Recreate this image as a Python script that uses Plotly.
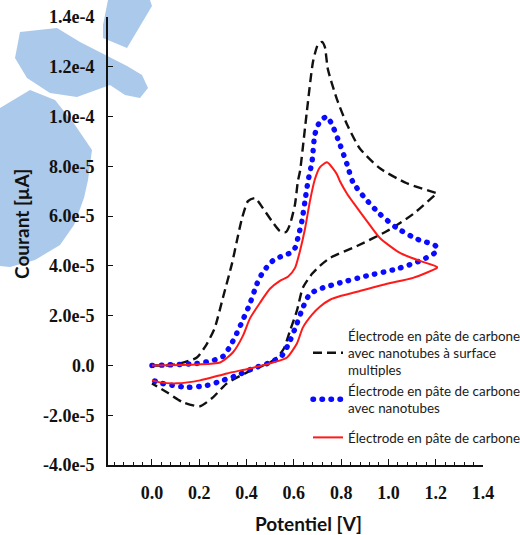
import numpy as np
import plotly.graph_objects as go

# Cyclic voltammograms: potential in V, current in units of 1e-5 A
I_SCALE = 1e-5

# Carbon paste electrode with multi-walled nanotubes (black dashed)
mwcnt_fwd_e = [0.000, 0.063, 0.118, 0.190, 0.233, 0.266, 0.300, 0.338, 0.359, 0.381,
               0.406, 0.436, 0.469, 0.507, 0.541, 0.567, 0.584, 0.605, 0.617, 0.626,
               0.655, 0.681, 0.702, 0.719, 0.731, 0.744, 0.782, 0.825, 0.879, 0.964,
               1.078, 1.205]
mwcnt_fwd_i = [0.00, 0.00, 0.08, 0.32, 0.88, 1.52, 2.72, 4.08, 5.00, 5.92,
               6.60, 6.72, 6.32, 5.80, 5.40, 5.36, 5.68, 6.48, 7.40, 7.80,
               10.2, 12.2, 12.9, 13.0, 12.8, 11.9, 10.7, 9.68, 8.72, 7.92,
               7.32, 6.92]
mwcnt_rev_e = [1.205, 1.104, 0.994, 0.867, 0.753, 0.710, 0.677, 0.638, 0.613, 0.584,
               0.558, 0.533, 0.499, 0.402, 0.317, 0.258, 0.203, 0.131, 0.063, 0.000]
mwcnt_rev_i = [6.92, 6.08, 5.40, 4.80, 4.32, 4.00, 3.68, 3.12, 2.20, 1.40,
               0.68, 0.36, 0.12, -0.28, -0.72, -1.28, -1.64, -1.48, -1.08, -0.72]

# Carbon paste electrode with nanotubes (blue dotted)
cnt_fwd_e = [0.000, 0.190, 0.258, 0.300, 0.330, 0.359, 0.385, 0.414, 0.444, 0.465,
             0.490, 0.520, 0.554, 0.584, 0.605, 0.617, 0.634, 0.647, 0.660, 0.677,
             0.689, 0.710, 0.740, 0.765, 0.795, 0.825, 0.850, 0.901, 0.964, 1.036,
             1.120, 1.200]
cnt_fwd_i = [0.00, 0.08, 0.20, 0.36, 0.76, 1.30, 1.84, 2.48, 3.28, 3.68,
             4.00, 4.28, 4.40, 4.52, 4.72, 5.12, 5.80, 6.60, 7.40, 8.20,
             9.28, 9.80, 10.0, 9.60, 8.88, 8.08, 7.36, 6.72, 6.08, 5.52,
             5.08, 4.80]
cnt_rev_e = [1.200, 1.133, 1.036, 0.909, 0.795, 0.723, 0.702, 0.668, 0.638, 0.613,
             0.584, 0.550, 0.499, 0.427, 0.359, 0.300, 0.233, 0.152, 0.085, 0.042,
             0.004]
cnt_rev_i = [4.56, 4.20, 3.88, 3.60, 3.32, 3.12, 3.04, 2.88, 2.32, 1.68,
             1.00, 0.40, 0.12, -0.12, -0.40, -0.60, -0.80, -0.88, -0.80, -0.72,
             -0.60]

# Bare carbon paste electrode (red solid)
cpe_fwd_e = [0.000, 0.190, 0.288, 0.342, 0.385, 0.414, 0.457, 0.499, 0.541, 0.575,
             0.605, 0.626, 0.647, 0.668, 0.689, 0.710, 0.740, 0.765, 0.782, 0.795,
             0.825, 0.850, 0.909, 0.964, 1.049, 1.133, 1.205]
cpe_fwd_i = [0.00, 0.04, 0.12, 0.52, 1.20, 1.88, 2.52, 3.08, 3.40, 3.56,
             3.92, 4.60, 5.48, 6.60, 7.48, 7.96, 8.16, 7.92, 7.68, 7.40,
             6.90, 6.56, 5.80, 5.12, 4.52, 4.20, 3.96]
cpe_rev_e = [1.205, 1.104, 0.994, 0.867, 0.800, 0.753, 0.710, 0.677, 0.638, 0.613,
             0.571, 0.512, 0.414, 0.317, 0.203, 0.106, 0.034, 0.000]
cpe_rev_i = [3.92, 3.52, 3.28, 2.96, 2.80, 2.64, 2.36, 2.04, 1.52, 0.88,
             0.32, 0.12, -0.12, -0.32, -0.60, -0.72, -0.68, -0.60]

series_names = [
    "Électrode en pâte de carbone<br>avec nanotubes à surface<br>multiples",
    "Électrode en pâte de carbone<br>avec nanotubes",
    "Électrode en pâte de carbone",
]

y_tickvals = [-4e-5, -2e-5, 0, 2e-5, 4e-5, 6e-5, 8e-5, 1e-4, 1.2e-4, 1.4e-4]
y_ticktext = ["-4.0e-5", "-2.0e-5", "0.0", "2.0e-5", "4.0e-5", "6.0e-5",
              "8.0e-5", "1.0e-4", "1.2e-4", "1.4e-4"]
x_tickvals = [0.0, 0.2, 0.4, 0.6, 0.8, 1.0, 1.2, 1.4]
x_ticktext = ["0.0", "0.2", "0.4", "0.6", "0.8", "1.0", "1.2", "1.4"]


def loop(fe, fi, re_, ri):
    e = np.array(fe + re_)
    i = np.array(fi + ri) * I_SCALE
    return e, i


W, H = 520, 535
ML, MR, MT, MB = 108, 37, 17, 70

fig = go.Figure()

e, i = loop(mwcnt_fwd_e, mwcnt_fwd_i, mwcnt_rev_e, mwcnt_rev_i)
fig.add_trace(go.Scatter(x=e, y=i, mode="lines", name=series_names[0],
                         legendgroup="a",
                         line=dict(color="#111111", width=2.4, dash="9px,5px",
                                   shape="spline", smoothing=0.6)))
e, i = loop(cnt_fwd_e, cnt_fwd_i, cnt_rev_e, cnt_rev_i)
fig.add_trace(go.Scatter(x=e, y=i, mode="lines", name=series_names[1],
                         legendgroup="a",
                         line=dict(color="#0a0aff", width=5.4, dash="0.5px,8.5px",
                                   shape="spline", smoothing=0.6)))
e, i = loop(cpe_fwd_e, cpe_fwd_i, cpe_rev_e, cpe_rev_i)
fig.add_trace(go.Scatter(x=e, y=i, mode="lines", name=series_names[2],
                         legendgroup="b",
                         line=dict(color="#ff1a1a", width=2,
                                   shape="spline", smoothing=0.6)))


def px_to_paper(pts):
    pw, ph = W - ML - MR, H - MT - MB
    return [((x - ML) / pw, (H - MB - y) / ph) for x, y in pts]


def path_of(pts):
    p = px_to_paper(pts)
    return "M" + " L".join(f"{x:.4f},{y:.4f}" for x, y in p) + " Z"


# pale blue watermark logo behind the left side
logo_parts = [
    [(108, 0), (150, 0), (152, 6), (127, 48), (103, 38), (103, 25)],
    [(15, 58), (20, 32), (57, 28), (80, 42), (127, 66), (142, 75), (148, 88),
     (140, 98), (125, 95), (110, 85), (77, 97), (50, 93), (27, 78)],
    [(0, 108), (30, 90), (55, 100), (75, 125), (92, 150), (88, 180), (84, 198),
     (74, 225), (60, 245), (35, 260), (10, 267), (0, 266)],
]
for part in logo_parts:
    fig.add_shape(type="path", path=path_of(part), xref="paper", yref="paper",
                  fillcolor="#abc9ea", line=dict(width=0), layer="below")

tick_font = dict(family="Liberation Serif", size=18, color="#111111", weight="bold")
title_font = dict(family="Lato", size=19, color="#111111", weight="bold")

fig.update_xaxes(range=[-0.186, 1.40], showline=True, linecolor="#111111", linewidth=2,
                 showgrid=False, zeroline=False, ticks="inside", ticklen=6,
                 tickwidth=1.2, tickcolor="#111111", tickvals=x_tickvals,
                 ticktext=x_ticktext, tickfont=tick_font, ticklabelstandoff=10,
                 minor=dict(dtick=0.04, tick0=0, ticks="inside", ticklen=3,
                            tickwidth=1.2, tickcolor="#111111", showgrid=False))
fig.update_yaxes(range=[-4e-5, 1.4e-4], showline=True, linecolor="#111111", linewidth=2,
                 showgrid=False, zeroline=False, ticks="inside", ticklen=5,
                 tickwidth=1.2, tickcolor="#111111", tickvals=y_tickvals,
                 ticktext=y_ticktext, tickfont=tick_font, ticklabelstandoff=8)

fig.add_annotation(text="Potentiel [V]", xref="paper", yref="paper",
                   x=(308 - ML) / (W - ML - MR), y=-0.1295,
                   xanchor="center", yanchor="middle",
                   showarrow=False, font=title_font)
fig.add_annotation(text="Courant [µA]", xref="paper", yref="paper",
                   x=(22 - ML) / (W - ML - MR), y=0.538,
                   xanchor="center", yanchor="middle",
                   textangle=-90, showarrow=False, font=title_font)

fig.update_layout(
    width=W, height=H,
    margin=dict(l=ML, r=MR, t=MT, b=MB, autoexpand=False),
    paper_bgcolor="white", plot_bgcolor="white",
    showlegend=True,
    legend=dict(x=(308 - ML) / (W - ML - MR), y=0.3235, xanchor="left", yanchor="top",
                bgcolor="rgba(0,0,0,0)", borderwidth=0, tracegroupgap=9,
                font=dict(family="Lato", size=13.4, color="#1a1a1a"),
                valign="middle"),
)

# round caps turn the tiny dashes of the blue trace into dots
round_dots = """
var st = document.createElement('style');
st.textContent = 'path[style*="0.5px"]{stroke-linecap:round !important;}';
document.head.appendChild(st);
"""

fig.write_html("out.html", post_script=round_dots)
